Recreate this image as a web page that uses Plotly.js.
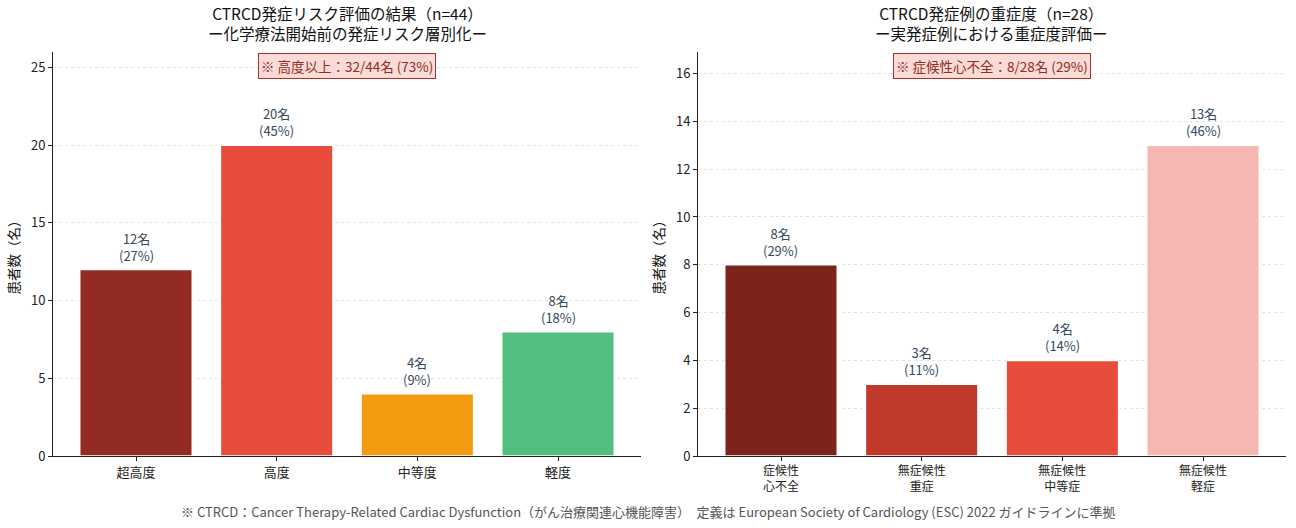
<!DOCTYPE html>
<html><head><meta charset="utf-8">
<script src="https://cdn.plot.ly/plotly-3.0.1.min.js"></script>
<style>body{margin:0;background:#fff}#c{width:1296px;height:528px}</style>
</head><body><div id="c"></div>
<script>
const riskCats = ['超高度', '高度', '中等度', '軽度'];
const riskVals = [12, 20, 4, 8];
const riskColors = ['#922B21', '#E74C3C', '#F39C12', '#52BE80'];
const riskTotal = 44;

const sevCats = ['症候性<br>心不全', '無症候性<br>重症', '無症候性<br>中等症', '無症候性<br>軽症'];
const sevVals = [8, 3, 4, 13];
const sevColors = ['#7B241C', '#C0392B', '#E74C3C', '#F5B7B1'];
const sevTotal = 28;

const FONT = '"Noto Sans CJK JP", "Noto Sans", sans-serif';

function pct(v, t){ return Math.round(v / t * 100); }

const traces = [
  {type:'bar', x:riskCats, y:riskVals, xaxis:'x', yaxis:'y', width:0.8,
   marker:{color:riskColors, line:{color:'#ffffff', width:1.5}}, hoverinfo:'none'},
  {type:'bar', x:sevCats, y:sevVals, xaxis:'x2', yaxis:'y2', width:0.8,
   marker:{color:sevColors, line:{color:'#ffffff', width:1.5}}, hoverinfo:'none'}
];

const annotations = [];
riskCats.forEach((c, i) => annotations.push({
  x:c, y:riskVals[i], xref:'x', yref:'y', yanchor:'bottom', yshift:3, showarrow:false,
  text: riskVals[i] + '名<br>(' + pct(riskVals[i], riskTotal) + '%)',
  font:{size:13, color:'#34495E', family:FONT}
}));
sevCats.forEach((c, i) => annotations.push({
  x:c, y:sevVals[i], xref:'x2', yref:'y2', yanchor:'bottom', yshift:3, showarrow:false,
  text: sevVals[i] + '名<br>(' + pct(sevVals[i], sevTotal) + '%)',
  font:{size:13, color:'#34495E', family:FONT}
}));
const highSum = riskVals[0] + riskVals[1];
annotations.push({
  xref:'x domain', yref:'y domain', x:0.5, y:0.998, yanchor:'top', showarrow:false,
  text:'※ 高度以上：' + highSum + '/' + riskTotal + '名 (' + pct(highSum, riskTotal) + '%)',
  font:{size:13.5, color:'#922B21', family:FONT},
  bgcolor:'#FADBD8', bordercolor:'#A93226', borderwidth:1, borderpad:2
});
annotations.push({
  xref:'x2 domain', yref:'y2 domain', x:0.5, y:0.998, yanchor:'top', showarrow:false,
  text:'※ 症候性心不全：' + sevVals[0] + '/' + sevTotal + '名 (' + pct(sevVals[0], sevTotal) + '%)',
  font:{size:13.5, color:'#922B21', family:FONT},
  bgcolor:'#FADBD8', bordercolor:'#A93226', borderwidth:1, borderpad:2
});
annotations.push({
  xref:'x domain', yref:'y domain', x:0.5, y:1.0, yshift:29, showarrow:false, yanchor:'middle',
  text:'CTRCD発症リスク評価の結果（n=' + riskTotal + '）<br>ー化学療法開始前の発症リスク層別化ー',
  font:{size:15.5, color:'#111', family:FONT}
});
annotations.push({
  xref:'x2 domain', yref:'y2 domain', x:0.5, y:1.0, yshift:29, showarrow:false, yanchor:'middle',
  text:'CTRCD発症例の重症度（n=' + sevTotal + '）<br>ー実発症例における重症度評価ー',
  font:{size:15.5, color:'#111', family:FONT}
});
annotations.push({
  xref:'paper', yref:'paper', x:0.5, y:0, yshift:-55, showarrow:false, yanchor:'middle',
  text:'※ CTRCD：Cancer Therapy-Related Cardiac Dysfunction（がん治療関連心機能障害）　定義は European Society of Cardiology (ESC) 2022 ガイドラインに準拠',
  font:{size:13, color:'#555555', family:FONT}
});

const yCommon = {
  showline:true, linecolor:'#222', linewidth:1, ticks:'outside', ticklen:4, tickcolor:'#222',
  showgrid:true, gridcolor:'#e3e3e3', griddash:'dot', gridwidth:1, zeroline:false,
  tickfont:{size:13, color:'#222', family:FONT},
  title:{text:'患者数（名）', font:{size:13.5, color:'#111', family:FONT}, standoff:8}
};
const xCommon = {
  showline:true, linecolor:'#222', linewidth:1, ticks:'outside', ticklen:4, tickcolor:'#222',
  showgrid:false, zeroline:false, range:[-0.59, 3.59]
};

const layout = {
  width:1296, height:528,
  margin:{l:0, r:0, t:52, b:72},
  paper_bgcolor:'#ffffff', plot_bgcolor:'#ffffff',
  showlegend:false, bargap:0.2,
  font:{family:FONT},
  xaxis:Object.assign({}, xCommon, {domain:[53/1296, 641/1296], anchor:'y', tickfont:{size:13, color:'#222', family:FONT}}),
  yaxis:Object.assign({}, yCommon, {range:[0, 26], dtick:5, anchor:'x'}),
  xaxis2:Object.assign({}, xCommon, {domain:[698/1296, 1286/1296], anchor:'y2', tickfont:{size:12, color:'#222', family:FONT}}),
  yaxis2:Object.assign({}, yCommon, {range:[0, 16.9], dtick:2, anchor:'x2'}),
  annotations:annotations
};

Plotly.newPlot('c', traces, layout, {staticPlot:true, displayModeBar:false});
</script></body></html>
